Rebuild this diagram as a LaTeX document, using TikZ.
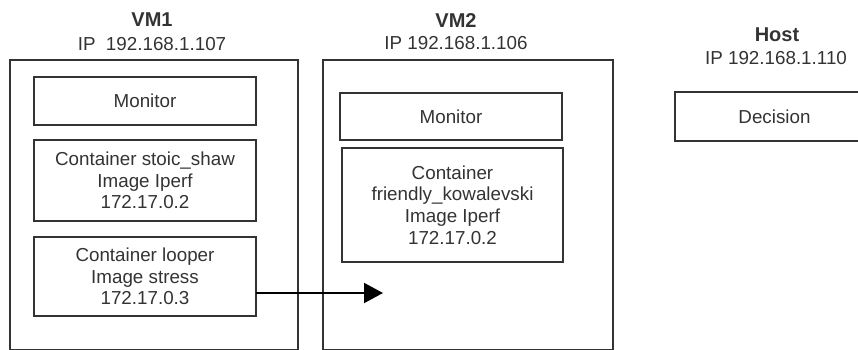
\documentclass[tikz,border=0pt]{standalone}
\usepackage{fontspec}
\setmainfont{Liberation Sans}
\usetikzlibrary{arrows.meta}
\definecolor{ink}{RGB}{51,51,51}
\begin{document}
\begin{tikzpicture}[x=1pt,y=-1pt,
  every node/.style={inner sep=0pt, outer sep=0pt},
  txt/.style={text=ink, font=\fontsize{18.8}{21.7}\selectfont, align=center},
  ttl/.style={text=ink, font=\fontsize{20}{22}\selectfont\bfseries},
  vmbox/.style={draw=ink, line width=2pt},
  cbox/.style={draw=ink, line width=2pt, txt},
  link/.style={line width=2pt, black, -{Triangle[length=19pt,width=20pt]}}]
\useasboundingbox (0,0) rectangle (858,349);
% VM frames
\node[vmbox, minimum width=288pt, minimum height=290pt] (vm1) at (154,205) {};
\node[vmbox, minimum width=290pt, minimum height=290pt] (vm2) at (468,205) {};
% titles
\node[ttl] (t1) at (152,19.5) {VM1};
\node[txt] (ip1) at (152,44.5) {IP\ \ 192.168.1.107};
\node[ttl] (t2) at (456,21) {VM2};
\node[txt] (ip2) at (456,43.5) {IP 192.168.1.106};
\node[ttl] (t3) at (777,35) {Host};
\node[txt] (ip3) at (776,58.5) {IP 192.168.1.110};
% VM1 contents
\node[cbox, minimum width=222pt, minimum height=48pt] (mon1) at (145,101) {Monitor};
\node[cbox, minimum width=222pt, minimum height=81pt] (stoic) at (145,180.5) {Container stoic\_shaw\\Image Iperf\\172.17.0.2};
\node[cbox, minimum width=222pt, minimum height=79pt] (looper) at (145,276.5) {Container looper\\Image stress\\172.17.0.3};
% VM2 contents
\node[cbox, minimum width=222pt, minimum height=47pt] (mon2) at (451,116.5) {Monitor};
\node[cbox, minimum width=221pt, minimum height=114pt] (friendly) at (452.5,205) {Container\\friendly\_kowalevski\\Image Iperf\\172.17.0.2};
% Host
\node[cbox, minimum width=205pt, minimum height=49pt] (decision) at (777.5,116.5) {\hspace*{-6pt}Decision};
% arrow
\coordinate (arrowend) at (383,293);
\draw[link] (looper.east |- arrowend) -- (arrowend);
\end{tikzpicture}
\end{document}
